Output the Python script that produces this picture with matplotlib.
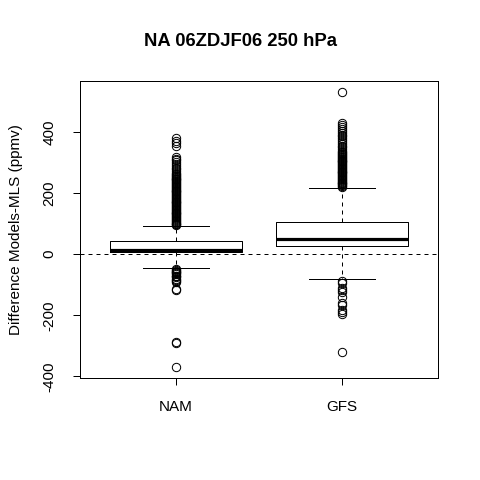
import matplotlib
matplotlib.use("Agg")
import matplotlib.pyplot as plt

plt.rcParams['font.family'] = ['Liberation Sans', 'DejaVu Sans']

# values (ppmv)
models = ['NAM', 'GFS']
q1 = [5.5, 28]
medians = [14, 51]
q3 = [42, 104]
whisker_lo = [-44, -80]
whisker_hi = [92, 216]

nam_outliers = [94, 97, 100, 103, 106, 109, 112, 115, 118, 121, 124, 127, 130,
                133, 136, 139, 142, 145, 148, 151, 154, 157, 160, 163, 166, 169,
                172, 175, 178, 181, 184, 187, 190, 193, 196, 199, 202, 205, 208,
                211, 214, 217, 220, 223, 226, 229, 232, 235, 238, 241, 244, 247,
                250, 253, 256, 259, 262, 266, 272, 277, 283, 289, 295, 301, 307,
                312, 318, 354, 362, 371, 379,
                -48, -51, -54, -57, -60, -63, -66, -70, -73, -76, -80, -84, -88,
                -91, -113, -118, -287, -292, -369]
gfs_outliers = [219, 222, 225, 228, 231, 234, 237, 240, 243, 246, 249, 252,
                255, 258, 261, 264, 267, 270, 273, 276, 279, 282, 285, 288, 291,
                294, 297, 300, 303, 306, 309, 312, 315, 318, 321, 324, 327, 330,
                333, 337, 343, 349, 355, 361, 367, 373, 379, 385, 391, 397, 403,
                409, 415, 421, 428, 530,
                -88, -95, -112, -118, -124, -140, -160, -165, -184, -190, -195, -320]

fig = plt.figure(figsize=(4.8, 4.8), dpi=100)
ax = fig.add_axes([80/480, 102/480, 358/480, 297/480])

stats = []
for i, name in enumerate(models):
    stats.append({
        'label': name,
        'q1': q1[i], 'med': medians[i], 'q3': q3[i],
        'whislo': whisker_lo[i], 'whishi': whisker_hi[i],
        'fliers': [nam_outliers, gfs_outliers][i],
    })

lw = 0.72
ax.bxp(stats, positions=[1, 2], widths=0.8, showfliers=True,
       boxprops=dict(color='black', linewidth=lw),
       medianprops=dict(color='black', linewidth=2.3, solid_capstyle='butt'),
       whiskerprops=dict(color='black', linewidth=lw, linestyle=(0, (4, 4))),
       capprops=dict(color='black', linewidth=lw),
       flierprops=dict(marker='o', markerfacecolor='none', markeredgecolor='black',
                       markersize=6, markeredgewidth=lw))

ax.axhline(0, color='black', linewidth=lw, linestyle=(0, (4, 4)))

ax.set_xlim(0.42, 2.58)
ax.set_ylim(-405, 566)
ax.set_yticks([-400, -200, 0, 200, 400])
ax.set_yticklabels(['-400', '-200', '0', '200', '400'], rotation=90, va='center')
ax.tick_params(axis='both', direction='out', length=5, width=lw, labelsize=11)
ax.tick_params(axis='y', pad=12)
ax.tick_params(axis='x', pad=11)
for sp in ax.spines.values():
    sp.set_linewidth(lw)

ax.set_ylabel('Difference Models-MLS (ppmv)', fontsize=11, labelpad=14)
fig.suptitle('NA 06ZDJF06 250 hPa', fontsize=13.3, fontweight='bold', y=1 - 41/480, va='center')

plt.savefig('out.png', dpi=100)
